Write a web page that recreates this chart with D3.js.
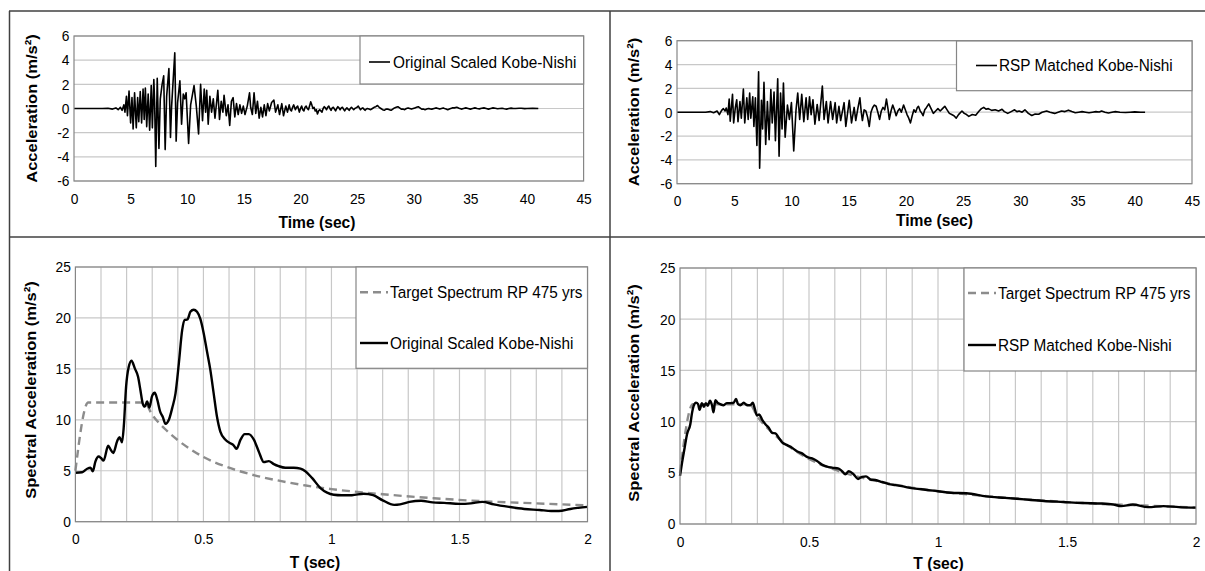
<!DOCTYPE html>
<html>
<head>
<meta charset="utf-8">
<script src="https://cdn.jsdelivr.net/npm/d3@7"></script>
<style>
body { margin: 0; background: #fff; }
svg { display: block; font-family: "Liberation Sans", Arial, sans-serif; }
</style>
</head>
<body>
<div id="chart"></div>
<script>
// ---- values ----
var timeTicks = [0, 5, 10, 15, 20, 25, 30, 35, 40, 45];
var accelTicks = [-6, -4, -2, 0, 2, 4, 6];
var periodTicks = [0, 0.5, 1, 1.5, 2];
var saTicks = [0, 5, 10, 15, 20, 25];

var targetLabel = "Target Spectrum RP 475 yrs";
var origLabel = "Original Scaled Kobe-Nishi";
var rspLabel = "RSP Matched Kobe-Nishi";

// [time (s), acceleration (m/s2)]
var origScaledAccel = [
  [0,0],[2.5,0],[3.0,0.02],[3.4,-0.05],[3.7,0.05],[3.9,-0.1],[4.1,0.1],[4.25,-0.15],[4.4,0.3],[4.5,-0.3],
  [4.63,1.0],[4.72,-0.6],[4.86,1.45],[5.0,-1.2],[5.12,0.9],[5.22,-1.7],[5.35,1.3],[5.5,-1.6],[5.62,0.9],[5.72,-1.1],
  [5.85,1.4],[5.97,-1.2],[6.1,1.6],[6.2,-0.9],[6.3,1.7],[6.42,-1.5],[6.55,1.2],[6.68,-1.8],[6.82,1.9],[6.92,-1.6],
  [7.05,2.4],[7.12,0.5],[7.22,-4.8],[7.35,2.5],[7.5,-3.3],[7.62,0.8],[7.78,2.0],[7.92,2.7],[8.05,-3.4],[8.18,1.0],
  [8.38,3.3],[8.52,-2.4],[8.62,0.2],[8.9,4.6],[9.02,-2.7],[9.15,0.5],[9.35,2.3],[9.5,-1.3],[9.65,1.2],[9.78,0.8],
  [9.9,1.3],[10.12,-2.9],[10.3,0.3],[10.6,1.9],[10.8,0.2],[11.0,-2.1],[11.18,2.0],[11.35,-1.0],[11.5,1.6],[11.62,-0.3],
  [11.72,1.5],[11.85,-1.3],[12.0,1.0],[12.15,-0.3],[12.3,0.8],[12.45,-0.8],[12.7,1.5],[12.85,-0.9],[13.0,0.6],[13.15,-0.3],
  [13.25,1.1],[13.45,-0.6],[13.6,0.3],[13.75,-1.4],[13.9,0.6],[14.05,0.9],[14.2,-0.7],[14.35,0.4],[14.5,-0.5],[14.65,0.3],
  [14.8,-0.4],[14.95,0.2],[15.1,-0.5],[15.3,0.2],[15.5,1.3],[15.6,0.1],[15.75,-0.5],[15.9,1.3],[16.05,-0.4],[16.2,0.6],
  [16.35,-0.8],[16.5,0.1],[16.65,-0.7],[16.8,0.3],[16.95,-0.6],[17.1,0.4],[17.25,-0.2],[17.45,0.5],[17.65,0.7],[17.8,-0.3],
  [18.0,0.3],[18.15,-0.5],[18.35,0.4],[18.5,-0.6],[18.7,0.2],[18.85,-0.3],[19.0,0.3],[19.1,-0.1],[19.2,-0.2],[19.3,0.1],
  [19.4,0.3],[19.55,-0.1],[19.65,0.1],[19.75,0.2],[19.9,-0.3],[20.0,0.0],[20.1,0.2],[20.2,-0.1],[20.3,-0.2],[20.4,0.1],
  [20.5,0.2],[20.6,0.0],[20.7,-0.1],[20.8,0.2],[20.9,0.55],[21.0,0.3],[21.1,0.0],[21.2,0.1],[21.3,-0.2],[21.4,-0.1],
  [21.5,-0.45],[21.6,-0.2],[21.7,-0.1],[21.8,-0.2],[21.9,-0.3],[22.0,0.0],[22.1,0.15],[22.2,0.05],[22.3,-0.1],[22.4,0.1],
  [22.5,0.2],[22.6,0.0],[22.7,-0.15],[22.8,0.05],[22.9,0.1],[23.0,-0.05],[23.1,-0.2],[23.2,0.0],[23.3,0.15],[23.4,0.05],
  [23.5,-0.1],[23.6,0.05],[23.7,0.1],[23.8,-0.05],[23.9,-0.2],[24.0,-0.05],[24.1,0.05],[24.2,-0.05],[24.3,-0.15],[24.4,0.0],
  [24.5,0.1],[24.6,0.0],[24.7,-0.1],[24.8,0.0],[24.9,0.05],[25.0,0.1],[25.1,0.2],[25.2,0.05],[25.3,-0.1],[25.4,0.0],
  [25.5,0.05],[25.6,-0.05],[25.7,-0.15],[25.8,-0.05],[25.9,0.0],[26.05,-0.05],[26.2,-0.1],[26.35,0.0],[26.5,0.1],[26.65,0.15],
  [26.8,0.25],[26.95,0.1],[27.1,0.0],[27.25,-0.1],[27.4,-0.15],[27.55,-0.05],[27.7,-0.05],[27.85,-0.1],[28.0,-0.15],[28.15,-0.05],
  [28.3,0.05],[28.45,0.1],[28.6,0.15],[28.75,0.05],[28.9,-0.05],[29.05,-0.05],[29.2,-0.1],[29.35,0.0],[29.5,0.05],[29.65,0.0],
  [29.8,-0.05],[29.95,0.0],[30.1,0.05],[30.25,0.1],[30.4,0.15],[30.55,0.05],[30.7,-0.05],[30.85,-0.05],[31.0,-0.1],[31.15,-0.05],
  [31.3,0.0],[31.45,-0.03],[31.6,-0.05],[31.8,0.0],[32.0,0.05],[32.15,0.0],[32.3,-0.05],[32.45,0.0],[32.6,0.05],[32.8,-0.03],
  [33.0,-0.1],[33.2,-0.02],[33.4,0.05],[33.6,0.05],[33.8,0.1],[34.0,0.02],[34.2,-0.05],[34.4,0.0],[34.6,0.05],[34.8,0.0],
  [35.0,-0.05],[35.2,0.0],[35.4,0.05],[35.6,0.0],[35.8,-0.03],[36.0,0.02],[36.2,0.05],[36.4,0.0],[36.6,-0.05],[36.8,0.0],
  [37.0,0.05],[37.2,0.02],[37.4,-0.02],[37.6,0.0],[37.8,0.02],[38.0,-0.02],[38.2,-0.05],[38.4,0.0],[38.6,0.03],[38.8,0.0],
  [39.0,0.0],[39.3,0.02],[39.5,0.02],[39.8,-0.01],[40.0,0.0],[40.5,0.01],[41.0,0.0]
];

var rspMatchedAccel = [
  [0,0],[2.5,0],[2.9,0.05],[3.2,-0.05],[3.5,0.1],[3.7,-0.2],[3.9,0.15],[4.05,0.3],[4.2,0.1],[4.3,0.35],
  [4.45,-0.2],[4.56,1.1],[4.65,-0.75],[4.85,1.5],[4.95,-0.9],[5.1,0.4],[5.22,1.05],[5.33,-0.8],[5.5,0.9],[5.62,-0.5],
  [5.8,1.95],[5.92,-0.9],[6.1,1.2],[6.22,-0.6],[6.35,1.6],[6.45,-0.5],[6.62,1.3],[6.72,-1.2],[6.85,1.2],[6.98,-2.8],
  [7.13,3.4],[7.22,-4.7],[7.38,1.0],[7.48,-1.4],[7.6,2.5],[7.75,-2.7],[7.9,0.9],[8.05,-2.3],[8.2,1.9],[8.32,-0.9],
  [8.48,1.7],[8.6,-2.4],[8.8,2.8],[8.92,-3.7],[9.05,1.6],[9.18,-1.4],[9.3,2.45],[9.45,-2.1],[9.65,0.6],[9.82,-0.6],
  [10.0,0.8],[10.2,-3.25],[10.4,0.2],[10.55,1.6],[10.72,-0.6],[10.9,1.5],[11.08,-0.8],[11.28,1.2],[11.42,-0.6],[11.58,1.3],
  [11.72,-0.2],[11.88,1.05],[12.05,-1.0],[12.25,0.65],[12.42,-0.7],[12.7,2.2],[12.85,-0.6],[13.05,0.9],[13.2,-0.9],[13.42,0.9],
  [13.6,-0.6],[13.82,0.8],[13.95,-0.9],[14.15,0.5],[14.3,-0.7],[14.6,0.8],[14.75,-1.2],[15.05,1.0],[15.25,-0.9],[15.48,0.4],
  [15.62,-0.7],[15.8,0.3],[15.98,1.2],[16.1,0.0],[16.2,-0.7],[16.35,0.2],[16.5,0.1],[16.65,-0.4],[16.8,-1.2],[16.95,0.0],
  [17.1,0.4],[17.25,0.6],[17.4,0.5],[17.55,0.0],[17.7,-0.6],[17.85,0.1],[18.0,0.4],[18.15,0.2],[18.3,1.1],[18.45,0.2],
  [18.55,-0.6],[18.7,0.1],[18.85,0.6],[19.0,0.2],[19.15,-0.3],[19.3,0.1],[19.45,0.3],[19.6,0.0],[19.8,0.6],[19.95,0.2],
  [20.1,-0.2],[20.25,-0.5],[20.4,-0.9],[20.55,-0.3],[20.7,0.2],[20.85,0.0],[21.0,0.4],[21.1,0.5],[21.25,0.1],[21.4,-0.1],
  [21.5,-0.3],[21.65,0.2],[21.8,0.4],[22.0,0.7],[22.2,0.3],[22.4,-0.1],[22.6,0.1],[22.8,0.3],[23.0,0.1],[23.2,0.3],
  [23.4,0.5],[23.6,0.2],[23.8,-0.1],[24.0,-0.2],[24.2,-0.3],[24.4,-0.5],[24.6,-0.2],[24.9,0.1],[25.1,-0.1],[25.3,-0.2],
  [25.5,-0.35],[25.8,-0.2],[26.1,-0.25],[26.4,0.1],[26.6,0.3],[26.8,0.4],[27.0,0.25],[27.2,0.3],[27.5,0.15],[27.8,0.2],
  [28.1,0.1],[28.4,0.25],[28.6,0.05],[28.9,-0.1],[29.2,0.05],[29.5,0.2],[29.7,0.05],[29.9,0.1],[30.15,0.0],[30.4,0.2],
  [30.7,-0.1],[31.0,-0.28],[31.3,-0.15],[31.6,-0.17],[31.9,0.0],[32.3,0.1],[32.6,0.0],[33.0,-0.1],[33.3,0.0],[33.6,0.1],
  [33.9,0.05],[34.2,0.17],[34.5,0.05],[34.8,-0.05],[35.1,0.0],[35.4,0.05],[35.7,0.0],[36.0,-0.05],[36.3,0.0],[36.6,0.05],
  [36.9,0.02],[37.1,0.1],[37.4,0.0],[37.7,-0.07],[38.0,0.0],[38.3,0.05],[38.7,0.0],[39.2,-0.03],[39.6,0.0],[40.0,0.03],
  [40.5,0.0],[40.9,0.0]
];

// [period T (s), spectral acceleration (m/s2)]
var targetSpectrum = [
  [0,5.0],[0.05,11.7],[0.1,11.7],[0.2,11.7],[0.27,11.7],[0.3,10.5],[0.35,9.1],[0.4,8.0],[0.45,7.1],[0.5,6.35],
  [0.6,5.3],[0.7,4.55],[0.8,4.0],[0.9,3.55],[1.0,3.2],[1.2,2.7],[1.4,2.3],[1.6,2.0],[1.8,1.8],[2.0,1.6]
];

var origScaledSpectrum = [
  [0,4.8],[0.026,4.85],[0.046,5.2],[0.059,5.3],[0.068,4.95],[0.078,5.9],[0.091,6.4],[0.1,6.25],[0.11,6.0],[0.128,7.45],
  [0.137,7.1],[0.148,6.75],[0.163,7.9],[0.172,8.3],[0.182,7.8],[0.189,9.35],[0.198,13.25],[0.208,15.15],[0.219,15.8],[0.232,15.05],
  [0.245,14.2],[0.254,12.9],[0.263,11.6],[0.271,11.3],[0.28,11.8],[0.289,11.2],[0.299,12.3],[0.31,12.65],[0.32,11.95],[0.331,10.8],
  [0.341,10.3],[0.352,9.6],[0.365,10.0],[0.378,11.15],[0.391,12.6],[0.404,15.55],[0.417,18.8],[0.427,19.8],[0.4375,19.85],[0.449,20.6],
  [0.462,20.8],[0.475,20.6],[0.488,19.9],[0.501,18.5],[0.514,16.7],[0.527,14.9],[0.54,12.6],[0.553,10.3],[0.566,8.85],[0.586,8.05],
  [0.605,7.7],[0.618,7.5],[0.629,7.15],[0.645,8.05],[0.661,8.6],[0.677,8.6],[0.697,8.05],[0.716,6.9],[0.736,5.85],[0.755,5.95],
  [0.775,5.65],[0.794,5.45],[0.82,5.3],[0.853,5.3],[0.879,5.2],[0.898,4.95],[0.924,4.3],[0.957,3.3],[0.983,2.85],[1.009,2.65],
  [1.04,2.6],[1.08,2.6],[1.126,2.75],[1.163,2.6],[1.2,2.1],[1.245,1.65],[1.268,1.7],[1.305,1.95],[1.35,2.05],[1.395,1.9],
  [1.44,1.85],[1.5,1.75],[1.544,1.8],[1.589,1.95],[1.634,1.7],[1.694,1.45],[1.753,1.25],[1.813,1.15],[1.858,1.05],[1.888,1.05],
  [1.933,1.25],[2.0,1.45]
];

var rspMatchedSpectrum = [
  [0,4.7],[0.008,6.0],[0.018,7.45],[0.027,8.75],[0.04,9.75],[0.047,10.9],[0.053,11.55],[0.062,11.85],[0.07,11.7],[0.076,11.15],
  [0.085,11.8],[0.093,11.45],[0.1,11.8],[0.108,11.55],[0.116,12.05],[0.124,11.6],[0.13,10.9],[0.137,12.1],[0.145,11.85],[0.156,11.7],
  [0.169,11.6],[0.182,11.8],[0.195,11.8],[0.208,11.85],[0.217,12.2],[0.225,11.7],[0.234,11.6],[0.247,11.85],[0.26,11.6],[0.273,11.6],
  [0.282,11.85],[0.289,11.35],[0.298,10.6],[0.307,10.7],[0.318,10.2],[0.331,9.75],[0.344,9.4],[0.357,8.9],[0.37,8.85],[0.382,8.45],
  [0.395,8.0],[0.415,7.7],[0.434,7.45],[0.453,7.1],[0.473,6.9],[0.492,6.55],[0.512,6.4],[0.531,6.15],[0.55,5.8],[0.57,5.6],
  [0.589,5.5],[0.615,5.4],[0.628,5.15],[0.641,4.85],[0.654,5.15],[0.673,4.85],[0.69,4.4],[0.705,4.6],[0.721,4.65],[0.738,4.35],
  [0.757,4.3],[0.783,4.1],[0.809,3.9],[0.835,3.8],[0.86,3.7],[0.886,3.55],[0.912,3.45],[0.951,3.35],[1.0,3.2],[1.05,3.05],
  [1.11,3.0],[1.186,2.7],[1.26,2.55],[1.335,2.4],[1.41,2.25],[1.485,2.15],[1.56,2.05],[1.635,2.0],[1.68,1.9],[1.71,1.75],
  [1.755,1.9],[1.814,1.65],[1.874,1.75],[1.934,1.65],[2.0,1.6]
];

// ---- drawing ----
var W = 1205, H = 571, SQ = 0.92;
var svg = d3.select("#chart").append("svg").attr("width", W).attr("height", H);
svg.append("rect").attr("width", W).attr("height", H).attr("fill", "#fff");

// outer panel frame
var frame = svg.append("g").attr("stroke", "#404040").attr("stroke-width", 1.5);
frame.append("line").attr("x1", 9).attr("x2", W).attr("y1", 11).attr("y2", 11);
frame.append("line").attr("x1", 9).attr("x2", W).attr("y1", 237).attr("y2", 237);
frame.append("line").attr("x1", 9.5).attr("x2", 9.5).attr("y1", 11).attr("y2", H);
frame.append("line").attr("x1", 610).attr("x2", 610).attr("y1", 11).attr("y2", H);

var solidBlack = { color: "#000", width: 1.6, dash: null, curve: d3.curveLinear };
var thickBlack = { color: "#000", width: 2.4, dash: null, curve: d3.curveMonotoneX };
var grayDash = { color: "#8c8c8c", width: 2.4, dash: "8,5", curve: d3.curveMonotoneX };

var spectraGrid = d3.range(1, 20).map(function(i) { return i / 10; });

var panels = [
  { box: [74, 583.6, 36, 181], xDomain: [0, 45], xTicks: timeTicks, xGrid: [],
    yDomain: [-6, 6], yTicks: accelTicks,
    series: [{ data: origScaledAccel, style: solidBlack }],
    xTitle: "Time (sec)", xTitlePos: [317, 228], yTitle: "Acceleration (m/s²)", yTitlePos: [37, 108.5],
    legend: { box: [360, 583.6, 36, 84], items: [{ label: origLabel, style: solidBlack, y: 62, x0: 369, x1: 390, tx: 393 }] } },
  { box: [677, 1192, 40.7, 183.7], xDomain: [0, 45], xTicks: timeTicks, xGrid: [],
    yDomain: [-6, 6], yTicks: accelTicks,
    series: [{ data: rspMatchedAccel, style: solidBlack }],
    xTitle: "Time (sec)", xTitlePos: [934.5, 226], yTitle: "Acceleration (m/s²)", yTitlePos: [638.5, 112],
    legend: { box: [956.5, 1192, 41, 90.7], items: [{ label: rspLabel, style: solidBlack, y: 65.5, x0: 976, x1: 997, tx: 999 }] } },
  { box: [75.4, 587.5, 267, 521.7], xDomain: [0, 2], xTicks: periodTicks, xGrid: spectraGrid,
    yDomain: [0, 25], yTicks: saTicks,
    series: [{ data: targetSpectrum, style: grayDash }, { data: origScaledSpectrum, style: thickBlack }],
    xTitle: "T (sec)", xTitlePos: [315, 568], yTitle: "Spectral Acceleration (m/s²)", yTitlePos: [36, 390],
    legend: { box: [356, 587.5, 267, 368.3], items: [
      { label: targetLabel, style: grayDash, y: 292.3, x0: 360, x1: 388, tx: 390 },
      { label: origLabel, style: thickBlack, y: 343, x0: 360, x1: 388, tx: 390 }] } },
  { box: [680, 1196, 268, 524], xDomain: [0, 2], xTicks: periodTicks, xGrid: spectraGrid,
    yDomain: [0, 25], yTicks: saTicks,
    series: [{ data: targetSpectrum, style: grayDash }, { data: rspMatchedSpectrum, style: thickBlack }],
    xTitle: "T (sec)", xTitlePos: [938.5, 569], yTitle: "Spectral Acceleration (m/s²)", yTitlePos: [639, 393],
    legend: { box: [964, 1196, 268, 371], items: [
      { label: targetLabel, style: grayDash, y: 293, x0: 968, x1: 996, tx: 998 },
      { label: rspLabel, style: thickBlack, y: 345, x0: 968, x1: 996, tx: 998 }] } }
];

panels.forEach(drawPanel);

function drawPanel(p) {
  var left = p.box[0], right = p.box[1], top = p.box[2], bottom = p.box[3];
  var x = d3.scaleLinear().domain(p.xDomain).range([left, right]);
  var y = d3.scaleLinear().domain(p.yDomain).range([bottom, top]);
  var g = svg.append("g");

  // gridlines
  g.selectAll(".hgrid").data(p.yTicks).enter().append("line")
    .attr("x1", left).attr("x2", right)
    .attr("y1", function(d) { return y(d); }).attr("y2", function(d) { return y(d); })
    .attr("stroke", "#c8c8c8").attr("stroke-width", 1.2);
  g.selectAll(".vgrid").data(p.xGrid).enter().append("line")
    .attr("y1", top).attr("y2", bottom)
    .attr("x1", function(d) { return x(d); }).attr("x2", function(d) { return x(d); })
    .attr("stroke", "#c8c8c8").attr("stroke-width", 1.2);

  // axes (labels only)
  var fmt = function(d) { return String(d); };
  var xa = g.append("g").attr("transform", "translate(0," + bottom + ")")
    .call(d3.axisBottom(x).tickValues(p.xTicks).tickFormat(fmt).tickSize(0).tickPadding(12));
  var ya = g.append("g").attr("transform", "translate(" + left + ",0)")
    .call(d3.axisLeft(y).tickValues(p.yTicks).tickFormat(fmt).tickSize(0).tickPadding(5));
  [xa, ya].forEach(function(a) {
    a.select(".domain").remove();
    a.selectAll("text").attr("font-family", "Liberation Sans, Arial, sans-serif")
      .attr("font-size", 15).attr("fill", "#000").attr("transform", "scale(" + SQ + ",1)");
  });

  // series
  p.series.forEach(function(s) {
    var line = d3.line().x(function(d) { return x(d[0]); }).y(function(d) { return y(d[1]); }).curve(s.style.curve);
    g.append("path").datum(s.data).attr("d", line)
      .attr("fill", "none").attr("stroke", s.style.color).attr("stroke-width", s.style.width)
      .attr("stroke-dasharray", s.style.dash).attr("stroke-linejoin", "round");
  });

  // plot border
  g.append("rect").attr("x", left).attr("y", top).attr("width", right - left).attr("height", bottom - top)
    .attr("fill", "none").attr("stroke", "#868686").attr("stroke-width", 1.2);

  // titles
  g.append("text").attr("transform", "translate(" + p.xTitlePos[0] + "," + p.xTitlePos[1] + ") scale(" + SQ + ",1)")
    .attr("text-anchor", "middle").attr("font-size", 17).attr("font-weight", "bold").text(p.xTitle);
  g.append("text").attr("transform", "translate(" + p.yTitlePos[0] + "," + p.yTitlePos[1] + ") scale(" + SQ + ",1) rotate(-90)")
    .attr("text-anchor", "middle").attr("font-size", 16.5).attr("font-weight", "bold").text(p.yTitle);

  // legend
  var L = p.legend;
  g.append("rect").attr("x", L.box[0]).attr("y", L.box[2]).attr("width", L.box[1] - L.box[0]).attr("height", L.box[3] - L.box[2])
    .attr("fill", "#fff").attr("stroke", "#868686").attr("stroke-width", 1.2);
  L.items.forEach(function(it) {
    g.append("line").attr("x1", it.x0).attr("x2", it.x1).attr("y1", it.y).attr("y2", it.y)
      .attr("stroke", it.style.color).attr("stroke-width", it.style.width).attr("stroke-dasharray", it.style.dash);
    g.append("text").attr("transform", "translate(" + it.tx + "," + it.y + ") scale(" + SQ + ",1)")
      .attr("dy", "0.35em").attr("font-size", 16.7).text(it.label);
  });
}
</script>
</body>
</html>
